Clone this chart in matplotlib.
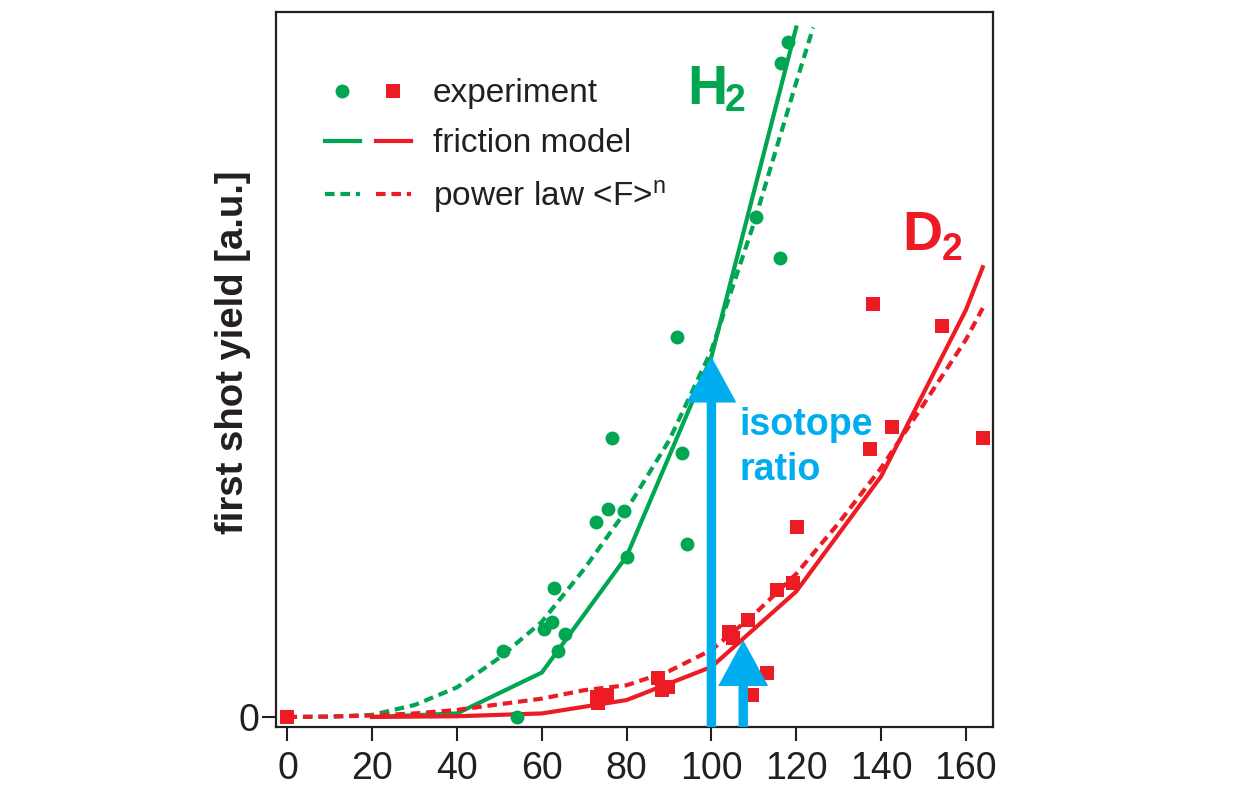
import matplotlib
matplotlib.use("Agg")
import matplotlib.pyplot as plt
from matplotlib.patches import FancyArrowPatch
from matplotlib.legend_handler import HandlerTuple

plt.rcParams['font.family'] = ['Liberation Sans', 'DejaVu Sans']
plt.rcParams['mathtext.default'] = 'regular'

GREEN = '#00A651'
RED = '#ED1C24'
BLUE = '#00AEEF'
INK = '#231F20'

# measured first-shot yields (H2 circles, D2 squares)
h2_x = [54.1, 50.8, 60.5, 62.3, 63.8, 65.4, 62.9, 72.8, 75.5, 79.4, 80.0,
        76.5, 91.9, 93.0, 94.2, 110.4, 116.2, 116.4, 118.0]
h2_y = [0.0, 9.4, 12.5, 13.5, 9.3, 11.8, 18.3, 27.7, 29.5, 29.2, 22.7,
        39.5, 53.9, 37.4, 24.6, 70.9, 65.1, 92.7, 95.7]
d2_x = [0.0, 72.9, 75.3, 73.2, 87.4, 88.3, 89.7, 104.2, 105.1, 108.7, 109.5,
        113.0, 115.4, 119.2, 120.2, 138.0, 137.4, 142.7, 154.5, 164.0]
d2_y = [0.0, 2.9, 3.1, 2.0, 5.5, 3.8, 4.3, 12.1, 11.2, 13.8, 3.1,
        6.3, 18.0, 19.0, 26.9, 58.6, 38.0, 41.2, 55.5, 39.6]

# friction model
h2_fric_x = [20, 40, 60, 80, 100, 120]
h2_fric_y = [0.0, 0.5, 6.3, 22.8, 51.1, 97.8]
d2_fric_x = [20, 40, 60, 80, 100, 120, 140, 160, 164]
d2_fric_y = [0.0, 0.1, 0.5, 2.4, 7.1, 17.8, 34.1, 57.7, 63.8]

# power law <F>^n
h2_pow_x = [0, 10, 20, 30, 40, 50, 60, 70, 80, 90, 100, 110, 120, 124]
h2_pow_y = [0.0, 0.05, 0.3, 1.7, 4.2, 8.4, 13.5, 21.0, 29.4, 39.2, 52.0,
            70.0, 90.0, 97.8]
d2_pow_x = [0, 10, 20, 30, 40, 50, 60, 70, 80, 90, 100, 110, 120, 130,
            140, 150, 160, 164]
d2_pow_y = [0.0, 0.05, 0.2, 0.5, 1.0, 1.8, 2.6, 3.8, 4.5, 6.5, 9.5, 14.5,
            20.3, 27.5, 35.3, 44.3, 53.5, 58.0]

# isotope ratio arrows: x position and tip height
arrow_x = [100, 107.5]
arrow_tip = [51.1, 10.9]

xticks = [0, 20, 40, 60, 80, 100, 120, 140, 160]

fig = plt.figure(figsize=(12.51, 7.92), dpi=100)
ax = fig.add_axes([0.2210, 0.0821, 0.5727, 0.9028])
ax.set_xlim(-2.6, 166.4)
ax.set_ylim(-1.42, 100)

lw = 3.0
dash = (0, (2.3, 1.4))
g_pow, = ax.plot(h2_pow_x, h2_pow_y, color=GREEN, lw=lw, ls=dash)
g_fric, = ax.plot(h2_fric_x, h2_fric_y, color=GREEN, lw=lw)
r_pow, = ax.plot(d2_pow_x, d2_pow_y, color=RED, lw=lw, ls=dash)
r_fric, = ax.plot(d2_fric_x, d2_fric_y, color=RED, lw=lw)

g_pts, = ax.plot(h2_x, h2_y, ls='none', marker='o', ms=10, mew=0, color=GREEN)
r_pts, = ax.plot(d2_x, d2_y, ls='none', marker='s', ms=10.5, mew=0, color=RED)

for xa, tip in zip(arrow_x, arrow_tip):
    arr = FancyArrowPatch((xa, -1.42), (xa, tip),
                          arrowstyle='simple,head_length=33,head_width=36,tail_width=6.8',
                          mutation_scale=1, shrinkA=0, shrinkB=0,
                          color=BLUE, lw=0, zorder=5)
    ax.add_patch(arr)

ax.text(94.2, 87.0, 'H', color=GREEN, fontsize=40, fontweight='bold',
        ha='left', va='baseline')
ax.text(103.2, 85.9, '2', color=GREEN, fontsize=27, fontweight='bold',
        ha='left', va='baseline')
ax.text(145.1, 66.2, 'D', color=RED, fontsize=40, fontweight='bold',
        ha='left', va='baseline')
ax.text(154.3, 64.8, '2', color=RED, fontsize=27, fontweight='bold',
        ha='left', va='baseline')
ax.text(106.7, 40.0, 'isotope', color=BLUE, fontsize=27, fontweight='bold',
        ha='left', va='baseline')
ax.text(106.7, 33.6, 'ratio', color=BLUE, fontsize=27, fontweight='bold',
        ha='left', va='baseline')

leg = ax.legend([(g_pts, r_pts), (g_fric, r_fric), (g_pow, r_pow)],
                ['experiment', 'friction model', 'power law <F>$^{n}$'],
                handler_map={tuple: HandlerTuple(ndivide=None, pad=0.48)},
                loc='upper left', bbox_to_anchor=(0.0677, 0.907),
                borderaxespad=0, borderpad=0, frameon=False, fontsize=24,
                handlelength=2.58, handletextpad=0.66, labelspacing=0.57,
                numpoints=1)
for t in leg.get_texts():
    t.set_color(INK)

ax.set_xticks(xticks)
ax.set_yticks([0])
ax.tick_params(axis='both', direction='out', length=10, width=1.5,
               color=INK, labelcolor=INK, labelsize=27, pad=2)
ax.tick_params(axis='x', top=False, pad=7)
ax.tick_params(axis='y', right=False)
for sp in ax.spines.values():
    sp.set_linewidth(1.6)
    sp.set_color(INK)

ax.set_ylabel('first shot yield [a.u.]', fontsize=27.5, fontweight='bold',
              color=INK)
ax.yaxis.set_label_coords(-0.036, 0.524)

fig.savefig('out.png', dpi=100)
